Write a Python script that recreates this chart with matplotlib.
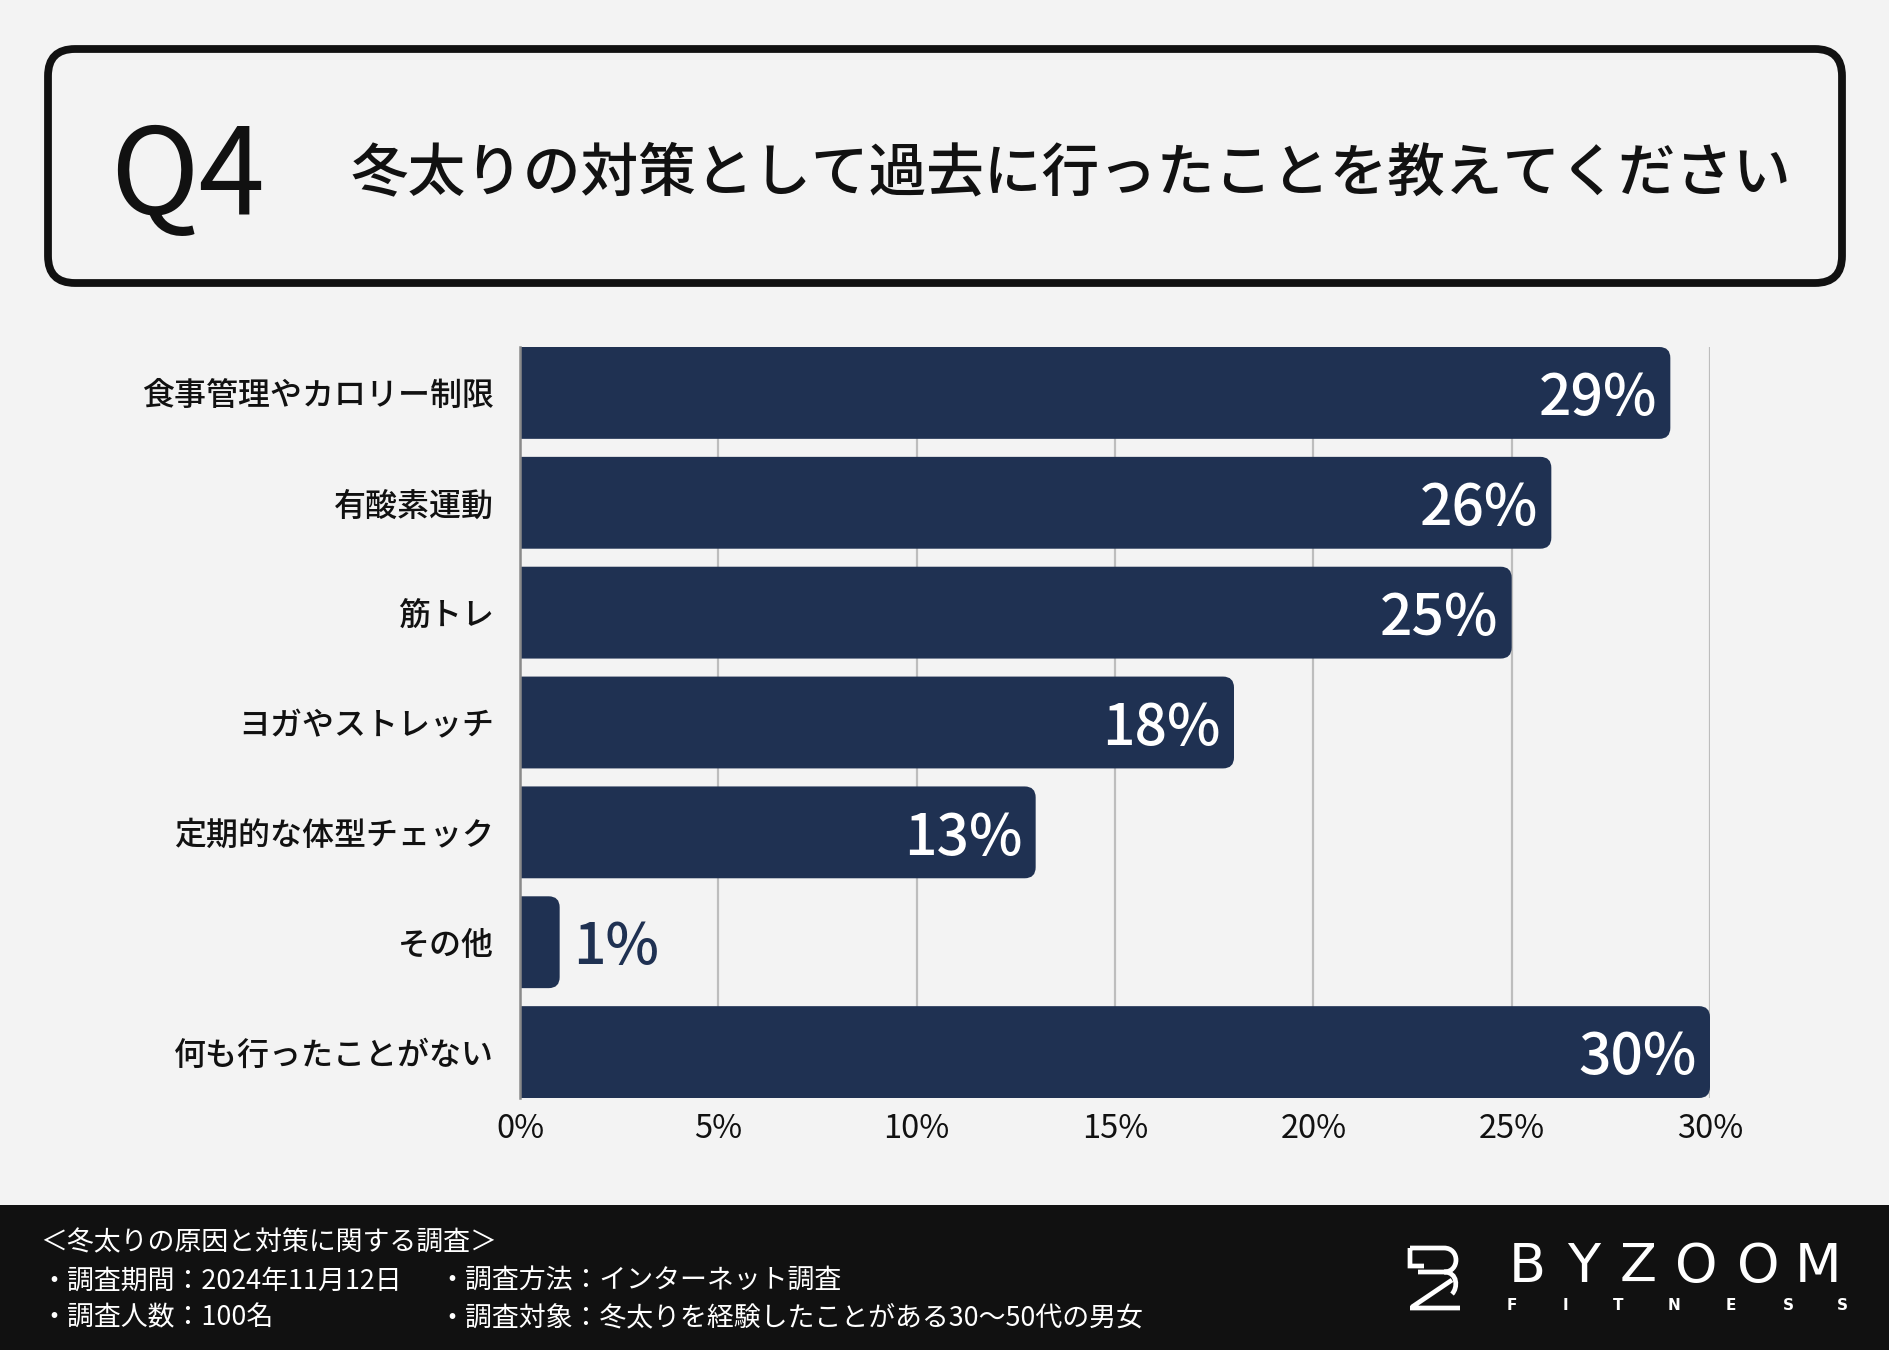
import matplotlib
matplotlib.use('Agg')
import matplotlib.pyplot as plt
from matplotlib.patches import FancyBboxPatch, Rectangle, PathPatch
from matplotlib.path import Path

# ---------------- data ----------------
categories = ['食事管理やカロリー制限', '有酸素運動', '筋トレ', 'ヨガやストレッチ',
              '定期的な体型チェック', 'その他', '何も行ったことがない']
values = [29, 26, 25, 18, 13, 1, 30]
xticks = [0, 5, 10, 15, 20, 25, 30]
xtick_labels = ['0%', '5%', '10%', '15%', '20%', '25%', '30%']
q_label = 'Q4'
title = '冬太りの対策として過去に行ったことを教えてください'
footer_head = '＜冬太りの原因と対策に関する調査＞'
footer_col1 = ['・調査期間：2024年11月12日', '・調査人数：100名']
footer_col2 = ['・調査方法：インターネット調査', '・調査対象：冬太りを経験したことがある30〜50代の男女']
brand = 'BYZOOM'
brand_sub = 'FITNESS'

# ---------------- style ----------------
plt.rcParams['font.family'] = ['Noto Sans CJK JP', 'DejaVu Sans']
BG = '#f3f3f3'
NAVY = '#1f3152'
DARK = '#111111'

W, H = 1890, 1350
fig = plt.figure(figsize=(W / 100, H / 100), dpi=100, facecolor=BG)

# background / decoration axes in pixel coordinates
bg = fig.add_axes([0, 0, 1, 1], zorder=0)
bg.set_xlim(0, W)
bg.set_ylim(H, 0)
bg.axis('off')

# title box
box = FancyBboxPatch((48, 49), 1794, 234, boxstyle='round,pad=0,rounding_size=27',
                     fc='none', ec=DARK, lw=5.6)
bg.add_patch(box)
bg.text(188, 180, q_label, fontsize=86, color=DARK, ha='center', va='center',
        fontweight='normal')
bg.text(350, 174, title, fontsize=41.5, color=DARK, ha='left', va='center',
        fontweight='medium')

# footer band
bg.add_patch(Rectangle((0, 1205), W, H - 1205, fc=DARK, ec='none'))
FS = 19.4
bg.text(40, 1243, footer_head, fontsize=FS, color='white', ha='left', va='center')
for i, (a, b) in enumerate(zip(footer_col1, footer_col2)):
    yy = [1281, 1318][i]
    bg.text(40, yy, a, fontsize=FS, color='white', ha='left', va='center')
    bg.text(438, yy, b, fontsize=FS, color='white', ha='left', va='center')

# logo icon (B over Z)
verts = [(1410, 1248), (1444, 1248), (1460, 1248), (1460, 1272), (1444, 1272),
         (1418, 1272), (1444, 1272), (1458, 1272), (1458, 1288), (1452, 1294),
         (1452, 1280), (1412, 1307),
         (1410, 1308), (1460, 1308),
         (1410, 1248), (1410, 1266), (1424, 1266)]
codes = [Path.MOVETO, Path.LINETO, Path.CURVE4, Path.CURVE4, Path.CURVE4,
         Path.MOVETO, Path.LINETO, Path.CURVE4, Path.CURVE4, Path.CURVE4,
         Path.MOVETO, Path.LINETO,
         Path.MOVETO, Path.LINETO,
         Path.MOVETO, Path.LINETO, Path.LINETO]
bg.add_patch(PathPatch(Path(verts, codes), fc='none', ec='white', lw=3.4,
                       capstyle='butt', joinstyle='miter'))
brand_x = [1527, 1584, 1638, 1696, 1758, 1818]
for ch, xx in zip(brand, brand_x):
    bg.text(xx, 1267, ch, fontsize=39, color='white', ha='center', va='center',
            family='DejaVu Sans', fontweight='normal')
sub_x = [1512, 1565, 1618, 1674, 1731, 1788, 1842]
for ch, xx in zip(brand_sub, sub_x):
    bg.text(xx, 1305, ch, fontsize=11, color='white', ha='center', va='center',
            family='DejaVu Sans', fontweight='bold')

# ---------------- chart ----------------
ax = fig.add_axes([520 / W, 1 - 1098 / H, 1190 / W, 751 / H], zorder=1)
ax.set_facecolor('none')
ypos = list(range(len(categories)))
bh = 0.836
bars = ax.barh(ypos, values, height=bh, color='none', edgecolor='none')
ax.set_xlim(0, 30)
ax.set_ylim(len(categories) - 1 + bh / 2, -bh / 2)

# rounded right ends
px_per_x = 1190 / 30
px_per_y = 751 / (len(categories) - 1 + bh)
r_px = 11
rx = r_px / px_per_x
aspect = (r_px / px_per_y) / rx
for b in bars:
    x0, y0, w, h = b.get_x(), b.get_y(), b.get_width(), b.get_height()
    p = FancyBboxPatch((x0 - 2, y0), w + 2, h,
                       boxstyle=f'round,pad=0,rounding_size={rx}',
                       mutation_aspect=aspect, fc=NAVY, ec='none', zorder=2)
    ax.add_patch(p)

for b, v in zip(bars, values):
    yc = b.get_y() + b.get_height() / 2
    if v >= 5:
        ax.annotate(f'{v}%', (v, yc), xytext=(-9.5, -4.5), textcoords='offset points',
                    ha='right', va='center', color='white', fontsize=41,
                    fontweight='medium', zorder=3)
    else:
        ax.annotate(f'{v}%', (v, yc), xytext=(9.5, -4.5), textcoords='offset points',
                    ha='left', va='center', color=NAVY, fontsize=41,
                    fontweight='medium', zorder=3)

ax.set_xticks(xticks)
ax.set_xticklabels(xtick_labels)
ax.set_yticks(ypos)
ax.set_yticklabels(categories)
ax.tick_params(axis='x', length=0, pad=11, labelsize=23.5, labelcolor=DARK)
ax.tick_params(axis='y', length=0, pad=18.5, labelsize=23, labelcolor=DARK)
for lab in ax.get_yticklabels():
    lab.set_fontweight('medium')
ax.grid(axis='x', color='#bdbdbd', lw=1.6, zorder=0)
ax.set_axisbelow(True)
for s in ['top', 'right', 'bottom']:
    ax.spines[s].set_visible(False)
ax.spines['left'].set_color('#8a8a8a')
ax.spines['left'].set_linewidth(1.8)
ax.spines['left'].set_zorder(4)

fig.savefig('out.png', dpi=100, facecolor=BG)
